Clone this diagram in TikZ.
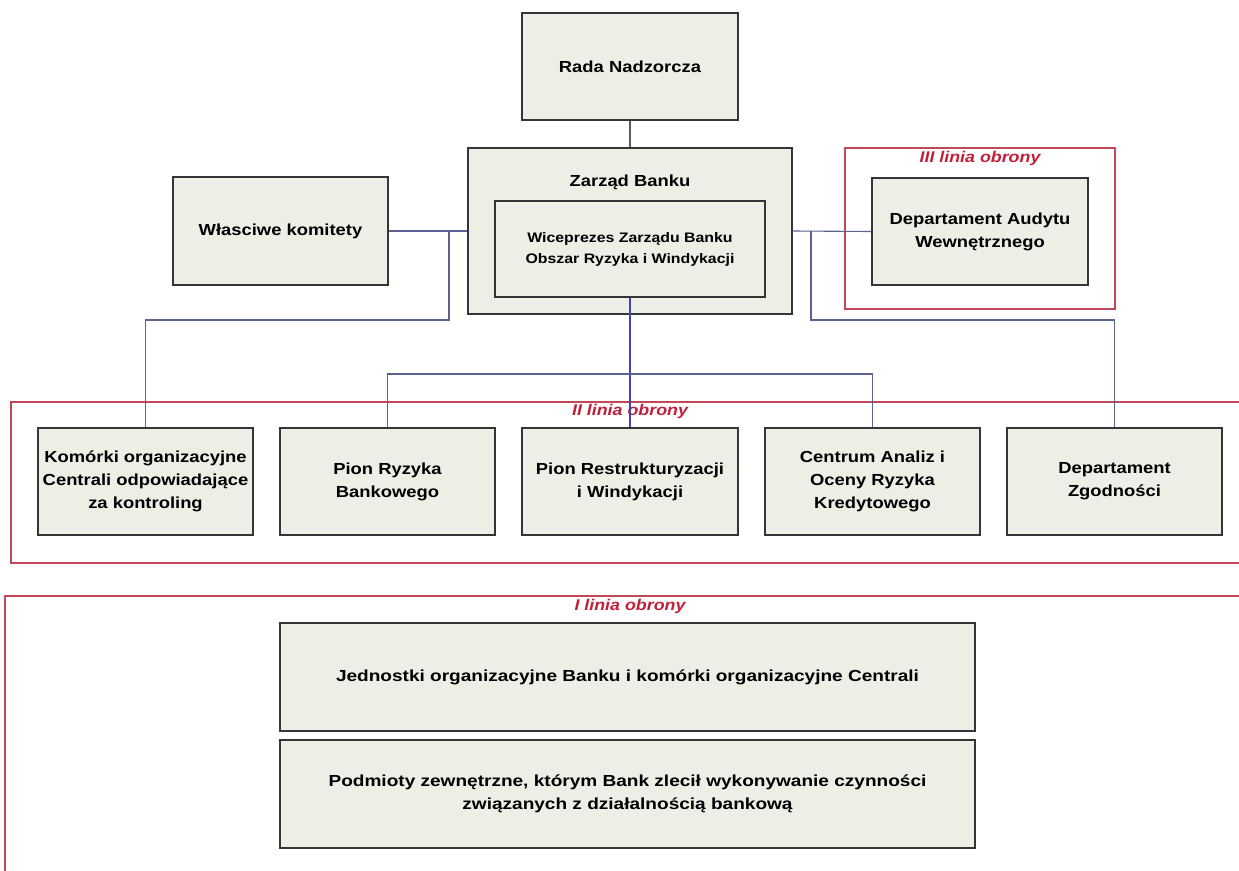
\documentclass[tikz,border=0pt]{standalone}
\usepackage{fontspec}
\setmainfont{Liberation Sans}[FakeStretch=1.15]
\newfontfamily\widefont{Liberation Sans}[FakeStretch=1.19]
\usetikzlibrary{positioning}
\definecolor{boxfill}{HTML}{EDEEE5}
\definecolor{boxline}{HTML}{353535}
\definecolor{conn}{HTML}{5C6290}
\definecolor{frame}{HTML}{C04858}
\definecolor{lbl}{HTML}{C0203A}
\tikzset{
  orgbox/.style={draw=boxline, fill=boxfill, line width=1.4pt, align=center,
    font=\fontsize{16}{23}\selectfont\bfseries, inner sep=0pt},
  conline/.style={draw=conn, line width=1.1pt},
  grayline/.style={draw=boxline!80, line width=1.1pt},
  lineframe/.style={draw=frame, line width=1.3pt},
  linelabel/.style={text=lbl, font=\fontsize{15.5}{18}\selectfont\bfseries\itshape, inner sep=0pt}
}
\begin{document}
\begin{tikzpicture}[x=1pt,y=-1pt]
\clip (0,0) rectangle (1239,870);
\fill[white] (0,0) rectangle (1239,870);
% frames
\draw[lineframe] (845,148) rectangle (1115,309);
\node[linelabel] (l3) at (980,158) {III linia obrony};
\draw[lineframe] (11,402) rectangle (1260,563);
\node[linelabel] (l2) at (630,411) {II linia obrony};
\draw[lineframe] (5,596) rectangle (1260,890);
\node[linelabel] (l1) at (630,606) {I linia obrony};

% boxes
\node[orgbox, minimum width=216, minimum height=107] (rada) at (630,66.5) {Rada Nadzorcza};
\node[orgbox, minimum width=324, minimum height=166] (zarzad) at (630,231) {};
\node[font=\fontsize{16}{20}\selectfont\bfseries] (zt) at (630,182) {Zarząd Banku};
\node[orgbox, minimum width=270, minimum height=96, font=\fontsize{13.8}{21}\selectfont\bfseries] (wice) at (630,249) {Wiceprezes Zarządu Banku\\Obszar Ryzyka i Windykacji};
\node[orgbox, minimum width=215, minimum height=108] (kom) at (280.5,231) {Własciwe komitety};
\node[orgbox, minimum width=216, minimum height=107] (audyt) at (980,231.5) {Departament Audytu\\Wewnętrznego};

\node[orgbox, minimum width=215, minimum height=107] (komorki) at (145.5,481.5) {Komórki organizacyjne\\Centrali odpowiadające\\za kontroling};
\node[orgbox, minimum width=215, minimum height=107] (ryzyka) at (387.5,481.5) {Pion Ryzyka\\Bankowego};
\node[orgbox, minimum width=216, minimum height=107] (restr) at (630,481.5) {Pion Restrukturyzacji\\i Windykacji};
\node[orgbox, minimum width=215, minimum height=107] (centrum) at (872.5,481.5) {Centrum Analiz i\\Oceny Ryzyka\\Kredytowego};
\node[orgbox, minimum width=215, minimum height=107] (zgod) at (1114.5,481.5) {Departament\\Zgodności};

\node[orgbox, minimum width=695, minimum height=108, font=\widefont\fontsize{16}{23}\selectfont\bfseries] (jedn) at (627.5,677) {Jednostki organizacyjne Banku i komórki organizacyjne Centrali};
\node[orgbox, minimum width=695, minimum height=108, font=\widefont\fontsize{16}{23}\selectfont\bfseries] (podm) at (627.5,794) {Podmioty zewnętrzne, którym Bank zlecił wykonywanie czynności\\związanych z działalnością bankową};

% connectors
\draw[grayline] (rada.south) -- (zarzad.north);
\draw[conline] (zarzad.west) -- (kom.east);
\draw[conline] (zarzad.east) -- (audyt.west);
\coordinate (jl) at (449,231);
\coordinate (jr) at (811,231);
\coordinate (jlb) at (449,320);
\coordinate (jrb) at (811,320);
\draw[conline] (jl) -- (jlb) -| (komorki.north);
\draw[conline] (jr) -- (jrb) -| (zgod.north);
\draw[conline, draw=conn!70!blue] (wice.south) -- (restr.north);
\coordinate (mb) at (630,374);
\draw[conline] (ryzyka.north) |- (mb) -| (centrum.north);
\end{tikzpicture}
\end{document}
